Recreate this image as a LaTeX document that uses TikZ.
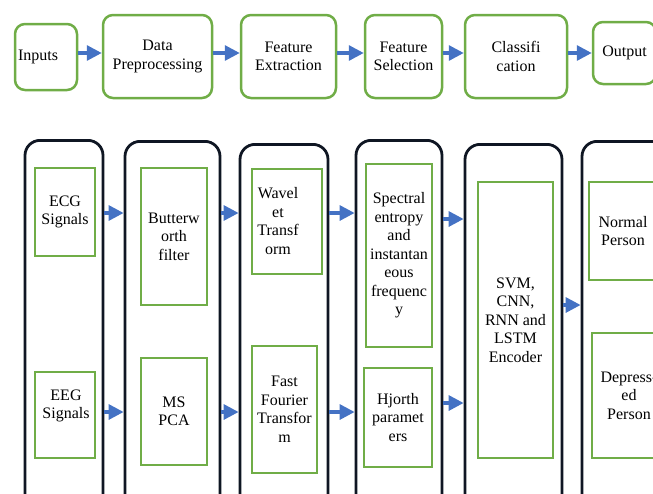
\documentclass[tikz,border=0pt]{standalone}
\usepackage{fontspec}
\setmainfont{Liberation Serif}
\usetikzlibrary{arrows.meta}
\definecolor{boxgreen}{HTML}{70AD47}
\definecolor{arrowblue}{HTML}{4472C4}
\definecolor{colblack}{HTML}{0F1623}
\begin{document}
\begin{tikzpicture}[x=1pt,y=-1pt,
  topbox/.style={draw=boxgreen,line width=2.5pt,rounded corners=10pt,align=center,inner sep=2pt},
  colbox/.style={draw=colblack,line width=2.8pt,rounded corners=15pt,anchor=north,minimum height=380pt},
  gbox/.style={draw=boxgreen,line width=2.5pt,align=center,inner sep=1pt},
  txt/.style={align=center,inner sep=0pt},
  arr/.style={draw=arrowblue,line width=3.2pt,-{Triangle[length=15pt,width=15pt]}},
  every node/.style={font=\fontsize{16}{18.5}\selectfont}]
 \useasboundingbox (0,0) rectangle (653,493);
 \clip (0,0) rectangle (653,493);
 % top row
 \node[topbox,minimum width=62pt,minimum height=66pt,text width=56pt,align=left] (inputs) at (46,57) {Inputs};
 \node[topbox,minimum width=109pt,minimum height=83pt] (data) at (157.5,56.5) {Data\\Preprocessing};
 \node[topbox,minimum width=95pt,minimum height=83pt] (fext) at (288.5,56.5) {Feature\\Extraction};
 \node[topbox,minimum width=77pt,minimum height=83pt] (fsel) at (403.5,56.5) {Feature\\Selection};
 \node[topbox,minimum width=102pt,minimum height=83pt] (class) at (516,56.5) {Classifi\\cation};
 \node[topbox,minimum width=63pt,minimum height=62pt] (output) at (624.5,53) {Output};
 \coordinate (r0) at (0,53);
 \draw[arr] (inputs.east |- r0) -- (data.west |- r0);
 \draw[arr] (data.east |- r0) -- (fext.west |- r0);
 \draw[arr] (fext.east |- r0) -- (fsel.west |- r0);
 \draw[arr] (fsel.east |- r0) -- (class.west |- r0);
 \draw[arr] (class.east |- r0) -- (output.west |- r0);
 % columns
 \node[colbox,minimum width=78pt] (col1) at (64,139) {};
 \node[colbox,minimum width=95pt] (col2) at (172.5,140) {};
 \node[colbox,minimum width=88pt] (col3) at (284,143) {};
 \node[colbox,minimum width=86pt] (col4) at (399,139) {};
 \node[colbox,minimum width=97pt] (col5) at (513.5,143) {};
 \node[colbox,minimum width=100pt] (col6) at (632,140) {};
 % inner boxes
 \node[gbox,minimum width=60pt,minimum height=88pt] (ecg) at (65,212) {ECG\\Signals};
 \node[gbox,minimum width=60pt,minimum height=86pt] (eeg) at (65,415) {};
 \node[txt] (eeg-t) at (66,406) {EEG\\Signals};
 \node[gbox,minimum width=66pt,minimum height=137pt] (butter) at (174,236.5) {Butterw\\orth\\filter};
 \node[gbox,minimum width=66pt,minimum height=107pt] (mspca) at (174,411.5) {MS\\PCA};
 \node[gbox,minimum width=70pt,minimum height=105pt] (wavelet) at (287,221.5) {};
 \node[txt] (wavelet-t) at (278,221) {Wavel\\et\\Transf\\orm};
 \node[gbox,minimum width=65pt,minimum height=127pt] (fft) at (284.5,409.5) {Fast\\Fourier\\Transfor\\m};
 \node[gbox,minimum width=66pt,minimum height=183pt] (spectral) at (399,255.5) {Spectral\\entropy\\and\\instantan\\eous\\frequenc\\y};
 \node[gbox,minimum width=68pt,minimum height=99pt] (hjorth) at (398,417.5) {Hjorth\\paramet\\ers};
 \node[gbox,minimum width=75pt,minimum height=276pt] (models) at (515.5,320) {SVM,\\CNN,\\RNN and\\LSTM\\Encoder};
 \node[gbox,minimum width=68pt,minimum height=98pt] (normal) at (623,231) {Normal\\Person};
 \node[gbox,minimum width=74pt,minimum height=125pt] (depressed) at (629,395.5) {Depress-\\ed\\Person};
 % arrows between columns
 \coordinate (r1) at (0,213);
 \coordinate (r2) at (0,412);
 \coordinate (r3) at (0,219);
 \coordinate (r4) at (0,403);
 \coordinate (r5) at (0,305);
 \draw[arr] (col1.east |- r1) -- (col2.west |- r1);
 \draw[arr] (col1.east |- r2) -- (col2.west |- r2);
 \draw[arr] (col2.east |- r1) -- (col3.west |- r1);
 \draw[arr] (col2.east |- r2) -- (col3.west |- r2);
 \draw[arr] (col3.east |- r1) -- (col4.west |- r1);
 \draw[arr] (col3.east |- r2) -- (col4.west |- r2);
 \draw[arr] (col4.east |- r3) -- (col5.west |- r3);
 \draw[arr] (col4.east |- r4) -- (col5.west |- r4);
 \draw[arr] (col5.east |- r5) -- (col6.west |- r5);
\end{tikzpicture}
\end{document}
